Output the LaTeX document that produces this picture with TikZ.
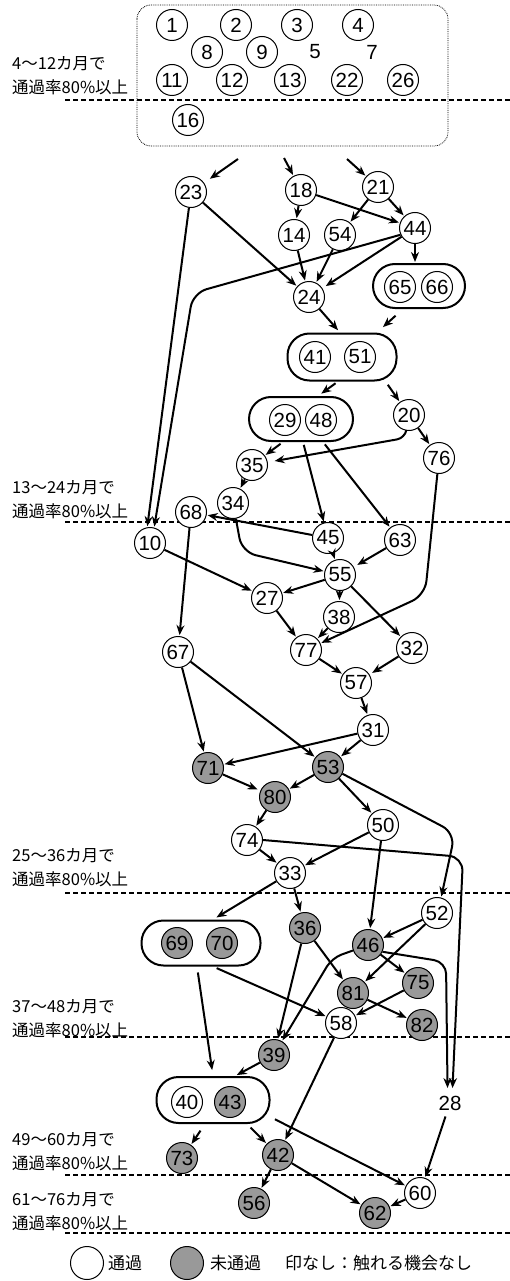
\documentclass[tikz,border=0pt]{standalone}
\usepackage{fontspec}
\newfontfamily\cjk{Noto Sans CJK JP}
\newfontfamily\numf{Liberation Sans}
\usetikzlibrary{arrows.meta}
\begin{document}
\begin{tikzpicture}[x=1pt,y=-1pt,
  n/.style={circle,draw,line width=1pt,minimum size=31pt,inner sep=0pt,fill=white,font=\numf\fontsize{20.5}{20.5}\selectfont},
  gn/.style={n,fill=black!40},
  grp/.style={rectangle,draw,line width=2pt,rounded corners=22pt,inner sep=0pt},
  pl/.style={inner sep=0pt,font=\numf\fontsize{20.5}{20.5}\selectfont},
  e/.style={-{Stealth[length=10pt,width=8pt]},line width=2pt,shorten >=1pt},
  sep/.style={line width=1.8pt,dash pattern=on 4.5pt off 3.5pt},
  lab/.style={anchor=west,align=left,inner sep=0pt,font=\cjk\fontsize{16.5}{24}\selectfont},
  leg/.style={anchor=west,inner sep=0pt,font=\cjk\fontsize{17}{17}\selectfont}
]
\useasboundingbox (0,0) rectangle (510,1281);

% separators and labels
\foreach \yy in {100,522,893,1037,1175,1233} \draw[sep] (65,\yy) -- (510,\yy);
\node[lab] (L1) at (12,75.5) {4～12カ月で\\通過率80\%以上};
\node[lab] (L2) at (12,499.5) {13～24カ月で\\通過率80\%以上};
\node[lab] (L3) at (12,867.5) {25～36カ月で\\通過率80\%以上};
\node[lab] (L4) at (12,1018.5) {37～48カ月で\\通過率80\%以上};
\node[lab] (L5) at (12,1151.5) {49～60カ月で\\通過率80\%以上};
\node[lab] (L6) at (12,1211.5) {61～76カ月で\\通過率80\%以上};

% top box
\draw[densely dotted,line width=0.8pt,rounded corners=14pt] (137,5) rectangle (448,146);
\node[n] (n1) at (172,25) {1};
\node[n] (n2) at (236,25) {2};
\node[n] (n3) at (297,25) {3};
\node[n] (n4) at (358,25) {4};
\node[n] (n8) at (207,52) {8};
\node[n] (n9) at (262,52) {9};
\node[pl] (t5) at (315,52) {5};
\node[pl] (t7) at (372,52) {7};
\node[n] (n11) at (172,80) {11};
\node[n] (n12) at (232,80) {12};
\node[n] (n13) at (290,80) {13};
\node[n] (n22) at (347,80) {22};
\node[n] (n26) at (403,80) {26};
\node[n] (n16) at (188,120) {16};

\coordinate (c23) at (238,159);
\coordinate (c18) at (284,158);
\coordinate (c21) at (347,159);

% groups
\node[grp,minimum width=92pt,minimum height=44pt] (g6566) at (419,286) {};
\node[grp,minimum width=109pt,minimum height=47pt] (g4151) at (342,357) {};
\node[grp,minimum width=104pt,minimum height=44pt] (g2948) at (301,419) {};
\node[grp,minimum width=119pt,minimum height=45pt] (g6970) at (201,943) {};
\node[grp,minimum width=113pt,minimum height=46pt] (g4043) at (213,1100) {};

% nodes
\node[n] (n23) at (191,192) {23};
\node[n] (n18) at (301,190) {18};
\node[n] (n21) at (378,187) {21};
\node[n] (n14) at (294,235) {14};
\node[n] (n54) at (340,235) {54};
\node[n] (n44) at (415,228) {44};
\node[n] (n24) at (309,297) {24};
\node[n] (n65) at (400,287) {65};
\node[n] (n66) at (437,287) {66};
\node[n] (n41) at (315,357) {41};
\node[n] (n51) at (360,357) {51};
\node[n] (n29) at (285,420) {29};
\node[n] (n48) at (321,420) {48};
\node[n] (n20) at (409,415) {20};
\node[n] (n76) at (439,458) {76};
\node[n] (n35) at (252,465) {35};
\node[n] (n34) at (233,503) {34};
\node[n] (n68) at (191,512) {68};
\node[n] (n10) at (150,543) {10};
\node[n] (n45) at (328,538) {45};
\node[n] (n63) at (400,540) {63};
\node[n] (n55) at (340,575) {55};
\node[n] (n27) at (267,598) {27};
\node[n] (n38) at (339,617) {38};
\node[n] (n77) at (306,650) {77};
\node[n] (n32) at (412,648) {32};
\node[n] (n67) at (178,652) {67};
\node[n] (n57) at (356,683) {57};
\node[n] (n31) at (373,730) {31};
\node[gn] (n71) at (208,768) {71};
\node[gn] (n53) at (328,767) {53};
\node[gn] (n80) at (275,797) {80};
\node[n] (n50) at (383,825) {50};
\node[n] (n74) at (247,840) {74};
\node[n] (n33) at (290,873) {33};
\node[n] (n52) at (437,913) {52};
\node[gn] (n36) at (305,928) {36};
\node[gn] (n46) at (368,945) {46};
\node[gn] (n69) at (177,943) {69};
\node[gn] (n70) at (222,943) {70};
\node[gn] (n75) at (418,983) {75};
\node[gn] (n81) at (353,993) {81};
\node[n] (n58) at (341,1023) {58};
\node[gn] (n82) at (422,1025) {82};
\node[gn] (n39) at (274,1055) {39};
\node[n] (n40) at (187,1102) {40};
\node[gn] (n43) at (230,1102) {43};
\node[pl,circle,minimum size=28pt] (t28) at (450,1103) {28};
\node[gn] (n73) at (182,1158) {73};
\node[gn] (n42) at (278,1155) {42};
\node[n] (n60) at (420,1193) {60};
\node[gn] (n56) at (254,1203) {56};
\node[gn] (n62) at (375,1213) {62};

% edges
\draw[e,shorten >=7pt] (c23) -- (n23);
\draw[e] (c18) -- (n18);
\draw[e] (c21) -- (n21);
\draw[e] (n18) -- (n14);
\draw[e] (n18) -- (n44);
\draw[e] (n21) -- (n54);
\draw[e] (n21) -- (n44);
\draw[e] (n14) -- (n24);
\draw[e] (n54) -- (n24);
\draw[e,shorten >=4pt] (n44) -- (n24);
\draw[e] (n23) -- (n24);
\draw[e] (n44) -- (n44 |- g6566.north);
\draw[e] (n23) -- (n10.100);
\draw[e,rounded corners=14pt] (n44.205) -- (193,293) -- (n10.75);
\draw[e,shorten >=3pt] (n24) -- ([xshift=-2pt]g4151.north);
\draw[e,shorten <=10pt,shorten >=8pt] ([xshift=-16pt]g6566.south) -- ([xshift=35pt]g4151.north);
\draw[e,shorten <=3pt,shorten >=4pt] ([xshift=-4pt]g4151.south) -- ([xshift=17pt]g2948.north);
\draw[e,shorten <=4pt] ([xshift=-12pt]g4151.south east) -- (n20);
\draw[e] (n20) -- (n76);
\draw[e,rounded corners=8pt,shorten >=7pt] (n20) -- (405,438) -- (n35);
\draw[e,shorten <=3pt] ([xshift=-18pt]g2948.south) -- (n35);
\draw[e,shorten <=3pt] ([xshift=2pt]g2948.south) -- (n45);
\draw[e,shorten <=3pt] ([xshift=22pt]g2948.south) -- (n63);
\draw[e] (n35) -- (n34);
\draw[e,rounded corners=14pt] (n34) -- (242,552) -- (n55);
\draw[e] (n45) -- (n68);
\draw[e] (n45) -- (n55);
\draw[e,shorten >=4pt] (n63) -- (n55);
\draw[e] (n10) -- (n27);
\draw[e] (n55) -- (n27);
\draw[e] (n55) -- (n38);
\draw[e] (n55) -- (n32);
\draw[e] (n27) -- (n77);
\draw[e] (n38) -- (n77);
\draw[e,rounded corners=14pt] (n76) -- (425,595) -- (n77);
\draw[e] (n77) -- (n57);
\draw[e,shorten >=3pt] (n32) -- (n57);
\draw[e] (n68) -- (n67);
\draw[e] (n57) -- (n31);
\draw[e] (n67) -- (n71);
\draw[e] (n67) -- (n53);
\draw[e] (n31) -- (n71);
\draw[e] (n31) -- (n53);
\draw[e,shorten >=3pt] (n71) -- (n80);
\draw[e] (n53) -- (n80);
\draw[e] (n53) -- (n50);
\draw[e,rounded corners=14pt] (n53.-25) -- (455,833) -- (n52.75);
\draw[e] (n80) -- (n74);
\draw[e] (n74) -- (n33);
\draw[e] (n50) -- (n33);
\draw[e] (n50) -- (n46);
\draw[e,rounded corners=14pt] (n74.east) -- (463,857) -- (t28.80);
\draw[e,shorten >=4pt] (n33) -- ([xshift=12pt]g6970.north);
\draw[e] (n33) -- (n36);
\draw[e] (n36) -- (n81);
\draw[e] (n36) -- (n39);
\draw[e] (n52) -- (n46);
\draw[e] (n52) -- (n81);
\draw[e] (n46) -- (n75);
\draw[e,rounded corners=10pt] (n46.200) -- (332,958) -- (n39.60);
\draw[e,rounded corners=12pt] (n46.-25) -- (446,962) -- (t28.100);
\draw[e] (n75) -- (n58);
\draw[e] (n81) -- (n82);
\draw[e,shorten <=4pt] ([xshift=12pt]g6970.south) -- (n58);
\draw[e,shorten <=6pt,shorten >=6pt] ([xshift=-4pt]g6970.south) -- (g4043.north);
\draw[e,shorten >=2pt] (n39) -- ([xshift=22pt]g4043.north);
\draw[e] (n58) -- (n42);
\draw[e,shorten <=8pt] ([xshift=-8pt]g4043.south) -- (n73);
\draw[e,shorten <=5pt] ([xshift=34pt]g4043.south) -- (n42);
\draw[e,shorten <=5pt] ([yshift=-17pt]g4043.east) -- (n60);
\draw[e] (n42) -- (n56);
\draw[e] (n42) -- (n62);
\draw[e] (t28) -- (n60);
\draw[e] (n60) -- (n62);

% legend
\node[n,minimum size=33pt] (lw) at (87,1263) {};
\node[leg] (lwt) at (108,1263) {通過};
\node[gn,minimum size=33pt] (lg) at (187,1263) {};
\node[leg] (lgt) at (210,1263) {未通過};
\node[leg] (lnt) at (285,1263) {印なし：触れる機会なし};
\end{tikzpicture}
\end{document}
